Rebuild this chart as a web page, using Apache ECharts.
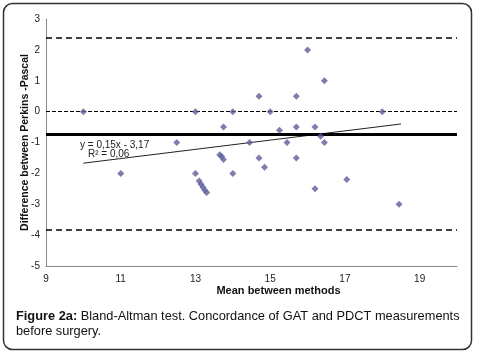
<!DOCTYPE html>
<html>
<head>
<meta charset="utf-8">
<script src="https://cdn.jsdelivr.net/npm/echarts@6/dist/echarts.min.js"></script>
<style>
  html, body { margin: 0; padding: 0; background: #fff; }
  #main { width: 477px; height: 355px; }
</style>
</head>
<body>
<div id="main"></div>
<script>
// mean between methods (x) and difference Perkins - Pascal (y)
const meanValues = [10, 13, 14, 15, 18,
  16, 16.45, 14.7, 15.7,
  13.75, 15.7, 16.2, 15.25, 16.35,
  12.5, 14.45, 15.45, 16.45,
  13.65, 13.7, 13.75, 14.7, 15.7, 14.85,
  11, 13, 14,
  13.1, 13.15, 13.2, 13.25, 13.3,
  17.05, 16.2, 18.45]
const diffValues = [0, 0, 0, 0, 0,
  2, 1, 0.5, 0.5,
  -0.5, -0.5, -0.5, -0.6, -0.8,
  -1, -1, -1, -1,
  -1.4, -1.45, -1.55, -1.5, -1.5, -1.8,
  -2, -2, -2,
  -2.25, -2.35, -2.45, -2.55, -2.62,
  -2.2, -2.5, -3]

// bias and limits of agreement
const meanDiff = -0.72
const upperLimit = 2.38
const lowerLimit = -3.83
const zeroLine = 0

// trend line ends as drawn
const trendX = [10, 18.5]
const trendY = [-1.67, -0.4]
const trendText = ['y = 0,15x - 3,17', 'R\u00b2 = 0,06']

const xTicks = [9, 11, 13, 15, 17, 19]

const points = meanValues.map((m, i) => [m, diffValues[i]])
const trend = trendX.map((t, i) => [t, trendY[i]])

const labelFont = 'Liberation Sans'

const option = {
  animation: false,
  grid: { left: 46, right: 20, top: 19, bottom: 89 },
  xAxis: {
    type: 'value',
    min: 9,
    max: 20,
    interval: 2,
    name: 'Mean between methods',
    nameLocation: 'middle',
    nameGap: 19,
    nameMoveOverlap: false,
    nameTextStyle: { fontFamily: labelFont, fontWeight: 'bold', fontSize: 11, color: '#111', padding: [0, 0, 0, 54] },
    splitLine: { show: false },
    axisTick: { show: false },
    axisLine: { onZero: false, lineStyle: { color: '#888', width: 1 } },
    axisLabel: {
      fontFamily: labelFont, fontSize: 10, color: '#222', margin: 8,
      formatter: v => xTicks.indexOf(v) >= 0 ? String(v) : ''
    }
  },
  yAxis: {
    type: 'value',
    min: -5,
    max: 3,
    interval: 1,
    name: 'Difference between Perkins -Pascal',
    nameLocation: 'middle',
    nameGap: 15,
    nameMoveOverlap: false,
    nameTextStyle: { fontFamily: labelFont, fontWeight: 'bold', fontSize: 10.5, color: '#111' },
    splitLine: { show: false },
    axisTick: { show: false },
    axisLine: { show: true, onZero: false, lineStyle: { color: '#888', width: 1 } },
    axisLabel: { fontFamily: labelFont, fontSize: 10, color: '#222', margin: 6 }
  },
  graphic: [
    {
      type: 'rect',
      shape: { x: 3.5, y: 3.5, width: 468, height: 346, r: 9 },
      style: { fill: 'none', stroke: '#333', lineWidth: 1.5 },
      silent: true
    },
    {
      type: 'text',
      left: 80, top: 140,
      style: { text: trendText[0], font: '10px ' + labelFont, fill: '#222' }
    },
    {
      type: 'text',
      left: 88, top: 149,
      style: { text: trendText[1], font: '10px ' + labelFont, fill: '#222' }
    },
    {
      type: 'text',
      left: 16, top: 309,
      style: {
        text: '{b|Figure 2a:} Bland-Altman test. Concordance of GAT and PDCT measurements\nbefore surgery.',
        font: '12.8px ' + labelFont,
        fill: '#111',
        lineHeight: 15,
        rich: { b: { fontWeight: 'bold', fontSize: 12.8, fontFamily: labelFont, fill: '#111' } }
      }
    }
  ],
  series: [
    {
      name: 'limits',
      type: 'line',
      data: [],
      silent: true,
      markLine: {
        symbol: ['none', 'none'],
        label: { show: false },
        silent: true,
        data: [
          { yAxis: upperLimit, lineStyle: { type: [6, 4], color: '#000', width: 1.5 } },
          { yAxis: lowerLimit, lineStyle: { type: [6, 4], color: '#000', width: 1.5 } },
          { yAxis: zeroLine, lineStyle: { type: [4, 2], color: '#000', width: 1.2 } },
          { yAxis: meanDiff, lineStyle: { type: 'solid', color: '#000', width: 3 } }
        ]
      }
    },
    {
      name: 'trend',
      type: 'line',
      data: trend,
      symbol: 'none',
      lineStyle: { color: '#222', width: 1 },
      silent: true
    },
    {
      name: 'differences',
      type: 'scatter',
      data: points,
      symbol: 'diamond',
      symbolSize: 7,
      itemStyle: { color: '#5c5c9a' },
      z: 5
    }
  ]
}

const chart = echarts.init(document.getElementById('main'), null, { renderer: 'canvas' })
chart.setOption(option)
</script>
</body>
</html>
